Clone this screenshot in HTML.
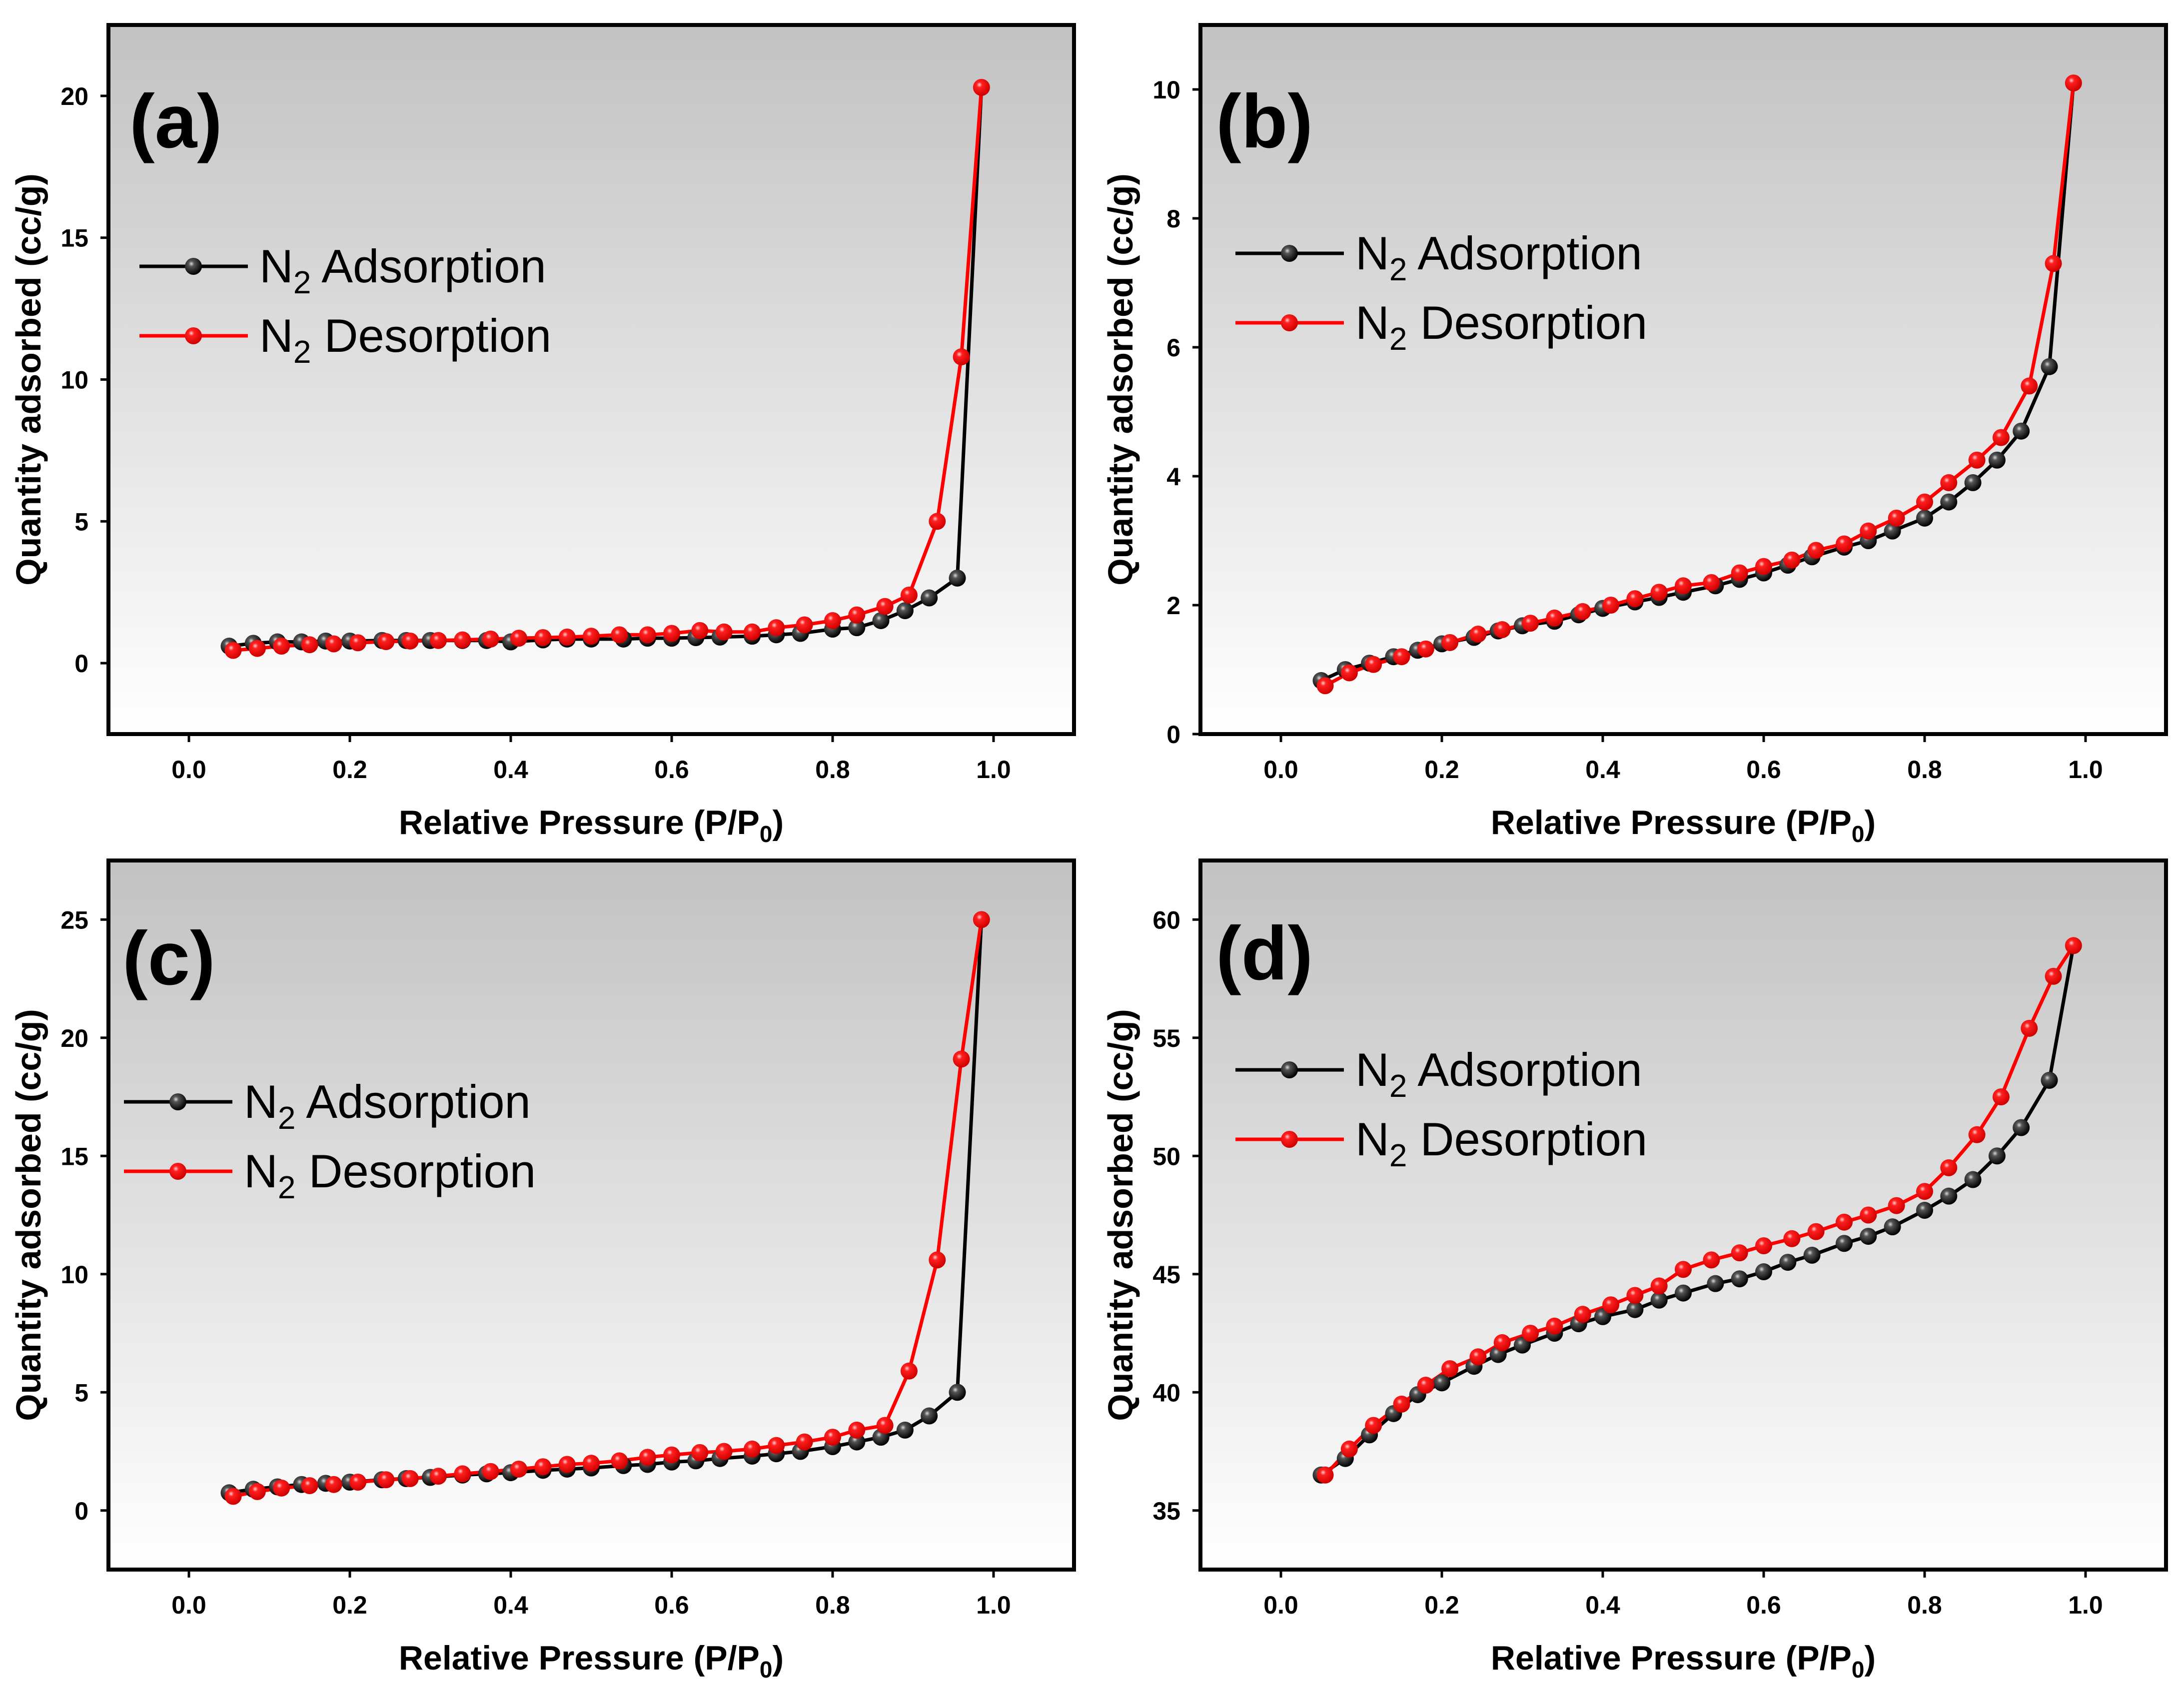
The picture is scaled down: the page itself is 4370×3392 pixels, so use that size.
<!DOCTYPE html>
<html><head><meta charset="utf-8"><style>
html,body{margin:0;padding:0;background:#fff;}
svg{display:block;font-family:"Liberation Sans",Arial,sans-serif;}
</style></head><body>
<svg id="fig" width="4370" height="3392" viewBox="0 0 4370 3392" xmlns="http://www.w3.org/2000/svg">
<defs>
<linearGradient id="bg" x1="0" y1="0" x2="0" y2="1">
<stop offset="0" stop-color="#c2c2c2"/><stop offset="0.5" stop-color="#e0e0e0"/><stop offset="1" stop-color="#ffffff"/>
</linearGradient>
<radialGradient id="gk" cx="0.38" cy="0.35" r="0.65">
<stop offset="0" stop-color="#d8d8d8"/><stop offset="0.25" stop-color="#555"/><stop offset="1" stop-color="#000"/>
</radialGradient>
<radialGradient id="gr" cx="0.38" cy="0.35" r="0.65">
<stop offset="0" stop-color="#ffd0d0"/><stop offset="0.25" stop-color="#ff2020"/><stop offset="1" stop-color="#d00000"/>
</radialGradient>
</defs>
</svg>
<script>
const xAds=[0.05,0.08,0.11,0.14,0.17,0.2,0.24,0.27,0.3,0.34,0.37,0.4,0.44,0.47,0.5,0.54,0.57,0.6,0.63,0.66,0.7,0.73,0.76,0.8,0.83,0.86,0.89,0.92,0.955];
const xDes=[0.985,0.96,0.93,0.895,0.865,0.83,0.8,0.765,0.73,0.7,0.665,0.635,0.6,0.57,0.535,0.5,0.47,0.44,0.41,0.375,0.34,0.31,0.275,0.245,0.21,0.18,0.15,0.115,0.085,0.055];
const adsA=[0.6,0.7,0.75,0.75,0.78,0.78,0.8,0.8,0.8,0.8,0.8,0.75,0.82,0.85,0.85,0.85,0.88,0.88,0.9,0.92,0.95,1.0,1.05,1.2,1.25,1.5,1.85,2.3,3.0];
const desA=[20.3,10.8,5.0,2.4,2.0,1.7,1.5,1.35,1.25,1.1,1.1,1.15,1.05,1.0,1.0,0.95,0.92,0.9,0.88,0.85,0.82,0.8,0.78,0.76,0.72,0.68,0.65,0.6,0.52,0.45];
const adsB=[0.83,1.0,1.1,1.2,1.3,1.4,1.5,1.6,1.68,1.75,1.85,1.95,2.05,2.12,2.2,2.3,2.4,2.5,2.62,2.75,2.9,3.0,3.15,3.35,3.6,3.9,4.25,4.7,5.7];
const desB=[10.1,7.3,5.4,4.6,4.25,3.9,3.6,3.35,3.15,2.95,2.85,2.7,2.6,2.5,2.35,2.3,2.2,2.1,2.0,1.9,1.8,1.72,1.62,1.55,1.42,1.32,1.2,1.08,0.95,0.75];
const adsC=[0.75,0.9,1.0,1.1,1.15,1.2,1.3,1.35,1.4,1.5,1.55,1.6,1.7,1.75,1.8,1.9,1.95,2.05,2.1,2.2,2.3,2.4,2.5,2.7,2.9,3.1,3.4,4.0,5.0];
const desC=[25.0,19.1,10.6,5.9,3.6,3.4,3.1,2.9,2.75,2.6,2.5,2.45,2.35,2.25,2.1,2.0,1.95,1.85,1.75,1.65,1.55,1.45,1.35,1.3,1.2,1.1,1.05,0.95,0.8,0.6];
const adsD=[36.5,37.2,38.2,39.1,39.9,40.4,41.1,41.6,42.0,42.5,42.9,43.2,43.5,43.9,44.2,44.6,44.8,45.1,45.5,45.8,46.3,46.6,47.0,47.7,48.3,49.0,50.0,51.2,53.2];
const desD=[58.9,57.6,55.4,52.5,50.9,49.5,48.5,47.9,47.5,47.2,46.8,46.5,46.2,45.9,45.6,45.2,44.5,44.1,43.7,43.3,42.8,42.5,42.1,41.5,41.0,40.3,39.5,38.6,37.6,36.5];
const xTicks=[0.0,0.2,0.4,0.6,0.8,1.0];
const yTicksA=[0,5,10,15,20];
const yTicksB=[0,2,4,6,8,10];
const yTicksC=[0,5,10,15,20,25];
const yTicksD=[35,40,45,50,55,60];

const NS="http://www.w3.org/2000/svg";
const svg=document.getElementById('fig');
function mk(tag,attrs,parent){const e=document.createElementNS(NS,tag);for(const k in attrs)e.setAttribute(k,attrs[k]);(parent||svg).appendChild(e);return e;}

const panels=[
 {id:'a',L:217,R:2149,T:50,B:1469,y0:-2.5,y1:22.5,yt:yTicksA,ads:adsA,des:desA,lx:279,ly:533,lbx:259,lby:295},
 {id:'b',L:2402,R:4334,T:50,B:1469,y0:0,y1:11,yt:yTicksB,ads:adsB,des:desB,lx:2472,ly:507,lbx:2433,lby:295},
 {id:'c',L:217,R:2149,T:1722,B:3141,y0:-2.5,y1:27.5,yt:yTicksC,ads:adsC,des:desC,lx:248,ly:2205,lbx:245,lby:1970},
 {id:'d',L:2402,R:4334,T:1722,B:3141,y0:32.5,y1:62.5,yt:yTicksD,ads:adsD,des:desD,lx:2472,ly:2141,lbx:2433,lby:1960}
];
panels.forEach(p=>{
 const g=mk('g',{});
 
 
 const sx=v=>p.L+(v+0.1)/1.2*(p.R-p.L);
 const sy=v=>p.B-(v-p.y0)/(p.y1-p.y0)*(p.B-p.T);
 const bg=mk('rect',{x:p.L,y:p.T,width:p.R-p.L,height:p.B-p.T,fill:'url(#bg)'},g);
 
 
 xTicks.forEach(t=>{
  const x=sx(t);
  mk('line',{x1:x,x2:x,y1:p.B,y2:p.B+16,stroke:'#000','stroke-width':5},g);
  const tx=mk('text',{x:x,y:p.B+88,'text-anchor':'middle','font-size':50,'font-weight':'bold'},g);
  tx.textContent=t.toFixed(1);
  
  
 });
 p.yt.forEach(t=>{
  const y=sy(t);
  mk('line',{x1:p.L-16,x2:p.L,y1:y,y2:y,stroke:'#000','stroke-width':5},g);
  const tx=mk('text',{x:p.L-40,y:y+18,'text-anchor':'end','font-size':50,'font-weight':'bold'},g);
  tx.textContent=t;
  
  
 });
 const xt=mk('text',{x:(p.L+p.R)/2,y:p.B+200,'text-anchor':'middle','font-size':68,'font-weight':'bold'},g);
 xt.innerHTML='Relative Pressure (P/P<tspan font-size="46" dy="16">0</tspan><tspan dy="-16">)</tspan>';
 
 
 const yc=(p.T+p.B)/2;
 const yt=mk('text',{x:0,y:0,'text-anchor':'middle','font-size':70,'font-weight':'bold',transform:`translate(${p.L-136},${yc}) rotate(-90)`},g);
 yt.textContent='Quantity adsorbed (cc/g)';
 
 
 const series=[[xAds,p.ads,'#000','url(#gk)','adsorption'],[xDes,p.des,'#ff0000','url(#gr)','desorption']];
 series.forEach((s,si)=>{
  let pts=s[0].map((x,i)=>sx(x)+','+sy(s[1][i])).join(' ');
  if(si===0) pts+=' '+sx(xDes[0])+','+sy(p.des[0]);
  const pl=mk('polyline',{points:pts,fill:'none',stroke:s[2],'stroke-width':7,'stroke-linejoin':'round'},g);
  
  
 });
 series.forEach(s=>{
  s[0].forEach((x,i)=>{
   const c=mk('circle',{cx:sx(x),cy:sy(s[1][i]),r:17,fill:s[3]},g);
   
   
  });
 });
 const fr=mk('rect',{x:p.L,y:p.T,width:p.R-p.L,height:p.B-p.T,fill:'none',stroke:'#000','stroke-width':8},g);
 
 
 const lb=mk('text',{x:p.lbx,y:p.lby,'font-size':152,'font-weight':'bold'},g);
 lb.textContent='('+p.id+')';
 
 
 [['Adsorption','#000','url(#gk)',0],['Desorption','#ff0000','url(#gr)',139]].forEach(e=>{
  const y=p.ly+e[3];
  const lg=mk('g',{},g);
  
  
  mk('line',{x1:p.lx,x2:p.lx+217,y1:y,y2:y,stroke:e[1],'stroke-width':7},lg);
  mk('circle',{cx:p.lx+108,cy:y,r:17,fill:e[2]},lg);
  const t=mk('text',{x:p.lx+240,y:y+32,'font-size':94},lg);
  t.innerHTML='N<tspan font-size="64" dy="22">2</tspan><tspan dy="-22"> '+e[0]+'</tspan>';
 });
});
</script>
</body></html>
